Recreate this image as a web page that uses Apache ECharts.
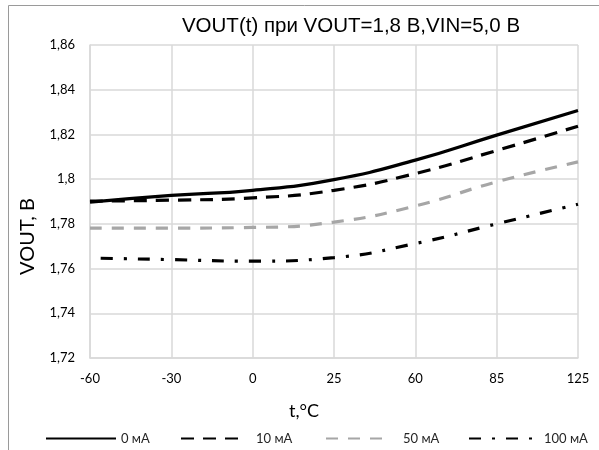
<!DOCTYPE html>
<html>
<head>
<meta charset="utf-8">
<script src="https://cdn.jsdelivr.net/npm/echarts@6/dist/echarts.min.js"></script>
<style>
  html, body { margin: 0; padding: 0; background: #fff; }
  #chart { width: 599px; height: 450px; }
</style>
</head>
<body>
<div id="chart"></div>
<script>
// Temperature points (°C) along the horizontal axis
const temps = ['-60', '-30', '0', '25', '60', '85', '125'];

// Output voltage VOUT (V) for each load current
const load0mA   = [1.7897, 1.7927, 1.7950, 1.7998, 1.8085, 1.8197, 1.8307];
const load10mA  = [1.7902, 1.7906, 1.7916, 1.7950, 1.8025, 1.8128, 1.8237];
const load50mA  = [1.7781, 1.7781, 1.7784, 1.7808, 1.7880, 1.7988, 1.8077];
const load100mA = [1.7647, 1.7640, 1.7633, 1.7649, 1.7712, 1.7800, 1.7888];

const seriesNames = ['0 мА', '10 мА', '50 мА', '100 мА'];

const axisFont = 'Lato, "Open Sans", sans-serif';
const gridColor = '#d9d9d9';

function lineSeries(name, data, color, dash, offset) {
  return {
    name: name,
    type: 'line',
    data: data,
    smooth: true,
    symbol: 'none',
    lineStyle: { color: color, width: 3.2, type: dash, dashOffset: offset || 0, cap: 'butt' },
    itemStyle: { color: color }
  };
}

// one legend per entry so each sample line can sit at its own place
function legendFor(name, left, width, textPad) {
  return {
    data: [name],
    left: left,
    top: 427,
    itemWidth: width,
    itemHeight: 14,
    itemStyle: { opacity: 0 },
    lineStyle: { dashOffset: 0 },
    textStyle: { fontFamily: axisFont, fontSize: 13, color: '#262626', padding: [0, 0, 0, textPad] }
  };
}

const chart = echarts.init(document.getElementById('chart'), null, { renderer: 'canvas' });

chart.setOption({
  animation: false,
  backgroundColor: '#ffffff',
  title: {
    text: 'VOUT(t) при VOUT=1,8 В,VIN=5,0 В',
    left: 346,
    top: 11,
    textAlign: 'center',
    textStyle: { fontFamily: '"Liberation Sans", Arial, sans-serif', fontSize: 20.5, fontWeight: 'normal', color: '#000' }
  },
  graphic: [{
    type: 'rect',
    shape: { x: 8.5, y: 5.5, width: 620, height: 470 },
    style: { fill: 'none', stroke: '#9a9a9a', lineWidth: 1 },
    silent: true
  }],
  legend: [
    legendFor(seriesNames[0], 40, 70, 0),
    legendFor(seriesNames[1], 175, 58, 12),
    legendFor(seriesNames[2], 320, 58, 14),
    legendFor(seriesNames[3], 463, 64, 6)
  ],
  grid: { left: 90, right: 21, top: 45, bottom: 92, containLabel: false },
  xAxis: {
    type: 'category',
    data: temps,
    boundaryGap: false,
    name: 't,°C',
    nameLocation: 'middle',
    nameGap: 44,
    nameTextStyle: { fontFamily: axisFont, fontSize: 18, color: '#000', padding: [0, 60, 0, 0] },
    axisLine: { show: true, lineStyle: { color: gridColor, width: 1.5 } },
    axisTick: { show: false },
    axisLabel: { fontFamily: axisFont, fontSize: 13, color: '#000', margin: 14 },
    splitLine: { show: true, lineStyle: { color: gridColor, width: 1.5 } }
  },
  yAxis: {
    type: 'value',
    min: 1.72,
    max: 1.86,
    interval: 0.02,
    name: 'VOUT, В',
    nameLocation: 'middle',
    nameGap: 52,
    nameTextStyle: { fontFamily: axisFont, fontSize: 20, color: '#000', padding: [0, 70, 0, 0] },
    axisLine: { show: true, lineStyle: { color: gridColor, width: 1.5 } },
    axisTick: { show: false },
    axisLabel: {
      fontFamily: axisFont, fontSize: 13, color: '#000', margin: 15,
      formatter: v => String(Number(v.toFixed(2))).replace('.', ',')
    },
    splitLine: { show: true, lineStyle: { color: gridColor, width: 1.5 } }
  },
  series: [
    lineSeries(seriesNames[0], load0mA, '#000000', 'solid'),
    lineSeries(seriesNames[1], load10mA, '#000000', [13, 9]),
    lineSeries(seriesNames[2], load50mA, '#a6a6a6', [12, 10]),
    lineSeries(seriesNames[3], load100mA, '#000000', [12, 11, 3, 11], 26)
  ]
});
</script>
</body>
</html>
